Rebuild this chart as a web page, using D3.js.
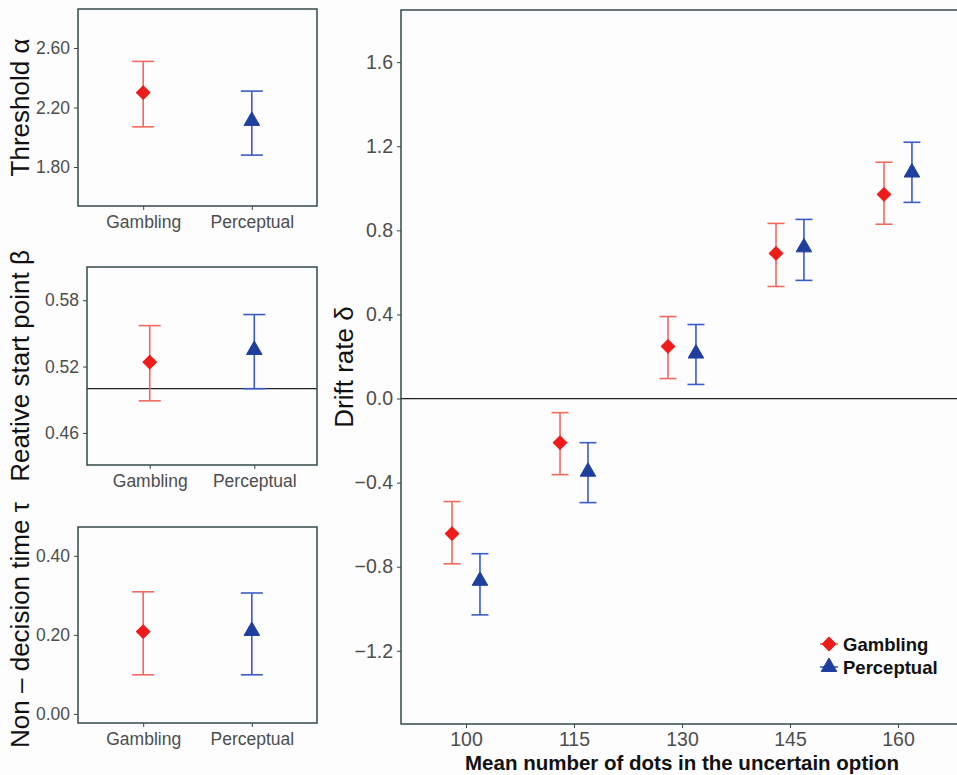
<!DOCTYPE html>
<html>
<head>
<meta charset="utf-8">
<script src="https://cdn.jsdelivr.net/npm/d3@7"></script>
<style>
  body { margin: 0; background: #fdfdfe; }
  text { font-family: "Liberation Sans", Arial, sans-serif; }
</style>
</head>
<body>
<svg id="chart" width="957" height="775"></svg>
<script>
// data
const tasks = ["Gambling", "Perceptual"];

// left panels: mean, upper, lower per task
const thresholdMean = [2.30, 2.11];
const thresholdHi = [2.51, 2.31];
const thresholdLo = [2.07, 1.88];

const startMean = [0.524, 0.535];
const startHi = [0.557, 0.567];
const startLo = [0.489, 0.500];

const ndtMean = [0.208, 0.210];
const ndtHi = [0.309, 0.306];
const ndtLo = [0.099, 0.099];

// drift rate panel
const dots = [100, 115, 130, 145, 160];
const driftGambling = [-0.643, -0.210, 0.248, 0.690, 0.971];
const driftGamblingHi = [-0.490, -0.067, 0.390, 0.833, 1.124];
const driftGamblingLo = [-0.786, -0.362, 0.095, 0.533, 0.829];
const driftPerceptual = [-0.867, -0.348, 0.214, 0.719, 1.075];
const driftPerceptualHi = [-0.738, -0.210, 0.352, 0.852, 1.219];
const driftPerceptualLo = [-1.029, -0.495, 0.067, 0.562, 0.933];

const leftTicks = {
  threshold: [1.8, 2.2, 2.6],
  start: [0.46, 0.52, 0.58],
  ndt: [0.0, 0.2, 0.4]
};
const driftTicks = [-1.2, -0.8, -0.4, 0.0, 0.4, 0.8, 1.2, 1.6];

const pointCol = { Gambling: "#ee1b1b", Perceptual: "#1f3f9f" };
const barCol = { Gambling: "#f26a5e", Perceptual: "#3b5cc4" };
const borderCol = "#34494a";
const tickCol = "#4d4d4d";

const svg = d3.select("#chart");

const diamond = d3.symbol().type(d3.symbolSquare).size(92);
const triangle = d3.symbol().type(d3.symbolTriangle).size(105);

const drawMarker = (g, task, x, y) => {
  g.append("path")
    .attr("d", task === "Gambling" ? diamond() : triangle())
    .attr("transform", task === "Gambling"
      ? `translate(${x},${y}) rotate(45)`
      : `translate(${x},${y})`)
    .attr("fill", pointCol[task])
    .attr("stroke", pointCol[task])
    .attr("stroke-width", 1)
    .attr("stroke-linejoin", "round");
};

const drawErr = (g, task, x, yHi, yLo, capW) => {
  g.append("line")
    .attr("x1", x).attr("x2", x).attr("y1", yHi).attr("y2", yLo)
    .attr("stroke", barCol[task]).attr("stroke-width", 1.6);
  [yHi, yLo].forEach(yy => {
    g.append("line")
      .attr("x1", x - capW / 2).attr("x2", x + capW / 2)
      .attr("y1", yy).attr("y2", yy)
      .attr("stroke", barCol[task]).attr("stroke-width", 1.6);
  });
};

// small panel with two categories
const smallPanel = (box, domain, ticks, fmt, mean, hi, lo, title, refLine) => {
  const x = d3.scalePoint().domain(tasks).range([box.left, box.right]).padding(0.6);
  const y = d3.scaleLinear().domain(domain).range([box.bottom, box.top]);
  const g = svg.append("g");

  g.append("g")
    .attr("transform", `translate(${box.left},0)`)
    .call(d3.axisLeft(y).tickValues(ticks).tickFormat(d3.format(fmt)).tickSize(4).tickSizeOuter(0))
    .call(a => a.select(".domain").remove())
    .call(a => a.selectAll("line").attr("stroke", borderCol))
    .call(a => a.selectAll("text").attr("fill", tickCol).attr("font-size", 17.5).attr("dx", -1));

  g.append("g")
    .attr("transform", `translate(0,${box.bottom})`)
    .call(d3.axisBottom(x).tickSize(4).tickSizeOuter(0))
    .call(a => a.select(".domain").remove())
    .call(a => a.selectAll("line").attr("stroke", borderCol))
    .call(a => a.selectAll("text").attr("fill", tickCol).attr("font-size", 17.5).attr("dy", "0.85em"));

  if (refLine !== undefined) {
    g.append("line")
      .attr("x1", box.left).attr("x2", box.right)
      .attr("y1", y(refLine)).attr("y2", y(refLine))
      .attr("stroke", "#222").attr("stroke-width", 1.3);
  }

  tasks.forEach((t, i) => {
    drawErr(g, t, x(t), y(hi[i]), y(lo[i]), 22);
    drawMarker(g, t, x(t), y(mean[i]));
  });

  g.append("rect")
    .attr("x", box.left).attr("y", box.top)
    .attr("width", box.right - box.left).attr("height", box.bottom - box.top)
    .attr("fill", "none").attr("stroke", borderCol).attr("stroke-width", 1.5);

  g.append("text")
    .attr("transform", `translate(29,${(box.top + box.bottom) / 2}) rotate(-90)`)
    .attr("text-anchor", "middle")
    .attr("font-size", 26)
    .attr("fill", "#111")
    .text(title);
};

smallPanel({ left: 78, right: 317, top: 9, bottom: 206 }, [1.538, 2.862],
  leftTicks.threshold, ".2f", thresholdMean, thresholdHi, thresholdLo, "Threshold \u03b1");
smallPanel({ left: 87, right: 317, top: 267, bottom: 465 }, [0.431, 0.610],
  leftTicks.start, ".2f", startMean, startHi, startLo, "Reative start point \u03b2", 0.5);
smallPanel({ left: 78, right: 317, top: 527, bottom: 723 }, [-0.023, 0.473],
  leftTicks.ndt, ".2f", ndtMean, ndtHi, ndtLo, "Non \u2013 decision time \u03c4");

// main drift rate panel
const main = { left: 401, right: 957, top: 10, bottom: 724 };
const xM = d3.scaleLinear().domain([90.97, 168.2]).range([main.left, main.right]);
const yM = d3.scaleLinear().domain([-1.548, 1.848]).range([main.bottom, main.top]);
const dodge = { Gambling: -1.94, Perceptual: 1.94 };
const gm = svg.append("g");

gm.append("g")
  .attr("transform", `translate(${main.left},0)`)
  .call(d3.axisLeft(yM).tickValues(driftTicks).tickFormat(d3.format(".1f")).tickSize(4).tickSizeOuter(0))
  .call(a => a.select(".domain").remove())
  .call(a => a.selectAll("line").attr("stroke", borderCol))
  .call(a => a.selectAll("text").attr("fill", tickCol).attr("font-size", 19.5).attr("dx", -1));

gm.append("g")
  .attr("transform", `translate(0,${main.bottom})`)
  .call(d3.axisBottom(xM).tickValues(dots).tickFormat(d3.format("d")).tickSize(4).tickSizeOuter(0))
  .call(a => a.select(".domain").remove())
  .call(a => a.selectAll("line").attr("stroke", borderCol))
  .call(a => a.selectAll("text").attr("fill", tickCol).attr("font-size", 19.5).attr("dy", "0.75em"));

gm.append("line")
  .attr("x1", main.left).attr("x2", main.right)
  .attr("y1", yM(0)).attr("y2", yM(0))
  .attr("stroke", "#222").attr("stroke-width", 1.3);

const series = [
  { task: "Gambling", mean: driftGambling, hi: driftGamblingHi, lo: driftGamblingLo },
  { task: "Perceptual", mean: driftPerceptual, hi: driftPerceptualHi, lo: driftPerceptualLo }
];

series.forEach(s => {
  dots.forEach((d, i) => {
    const px = xM(d + dodge[s.task]);
    drawErr(gm, s.task, px, yM(s.hi[i]), yM(s.lo[i]), 17);
  });
});
series.forEach(s => {
  dots.forEach((d, i) => {
    drawMarker(gm, s.task, xM(d + dodge[s.task]), yM(s.mean[i]));
  });
});

gm.append("path")
  .attr("d", `M${main.right + 2},${main.top}H${main.left}V${main.bottom}H${main.right + 2}`)
  .attr("fill", "none").attr("stroke", borderCol).attr("stroke-width", 1.5);

gm.append("text")
  .attr("transform", `translate(353,${(main.top + main.bottom) / 2}) rotate(-90)`)
  .attr("text-anchor", "middle")
  .attr("font-size", 26)
  .attr("fill", "#111")
  .text("Drift rate \u03b4");

gm.append("text")
  .attr("x", (466 + 898) / 2)
  .attr("y", 770)
  .attr("text-anchor", "middle")
  .attr("font-size", 20.5)
  .attr("font-weight", "bold")
  .attr("fill", "#111")
  .text("Mean number of dots in the uncertain option");

// legend
const legend = gm.append("g");
tasks.forEach((t, i) => {
  const ly = 644 + i * 23;
  legend.append("line")
    .attr("x1", 820).attr("x2", 838).attr("y1", ly).attr("y2", ly)
    .attr("stroke", barCol[t]).attr("stroke-width", 1.6);
  drawMarker(legend, t, 829, ly);
  legend.append("text")
    .attr("x", 843).attr("y", ly)
    .attr("dy", "0.36em")
    .attr("font-size", 18.5)
    .attr("font-weight", "bold")
    .attr("fill", "#111")
    .text(t);
});
</script>
</body>
</html>
